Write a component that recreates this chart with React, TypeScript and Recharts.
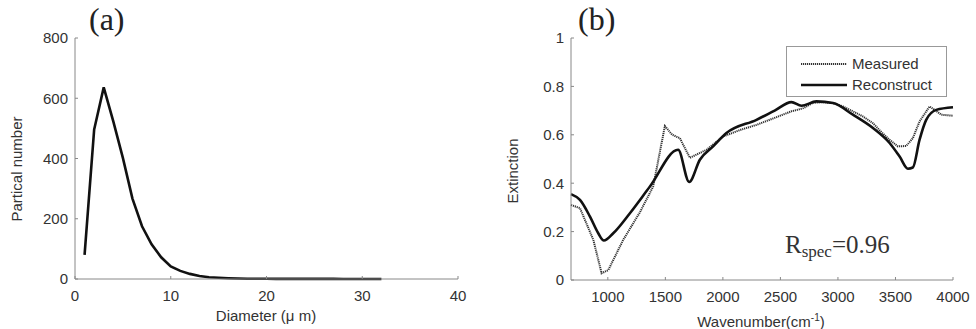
import React from 'react'
import { LineChart, Line, XAxis, YAxis, Legend } from 'recharts'

// panel (a): particle size distribution
const diameters = [1, 2, 3, 4, 5, 6, 7, 8, 9, 10, 11, 12, 13, 14, 15, 16, 17, 18, 19, 20, 21, 22, 23, 24, 25, 26, 27, 28, 29, 30, 31, 32]
const counts = [80, 496, 636, 523, 402, 267, 175, 115, 72, 42, 27, 17, 10, 6, 4, 2.5, 1.5, 1, 0.8, 0.6, 0.5, 0.5, 0.4, 0.4, 0.3, 0.3, 0.3, 0.2, 0.2, 0.2, 0.2, 0.2]
const diamTicks = [0, 10, 20, 30, 40]
const countTicks = [0, 200, 400, 600, 800]

// panel (b): extinction spectra
const measuredWn = [680, 758, 874, 946, 1004, 1134, 1279, 1394, 1496, 1560, 1626, 1713, 1858, 2002, 2150, 2292, 2450, 2596, 2700, 2783, 2870, 2957, 3040, 3130, 3220, 3304, 3380, 3449, 3521, 3594, 3651, 3709, 3796, 3850, 3898, 4000]
const measuredExt = [0.31, 0.297, 0.166, 0.028, 0.041, 0.166, 0.28, 0.386, 0.636, 0.6, 0.586, 0.505, 0.538, 0.593, 0.62, 0.641, 0.67, 0.697, 0.71, 0.732, 0.735, 0.731, 0.718, 0.697, 0.675, 0.648, 0.61, 0.579, 0.552, 0.554, 0.586, 0.655, 0.717, 0.7, 0.683, 0.679]
const reconWn = [680, 758, 845, 917, 966, 1047, 1192, 1366, 1611, 1707, 1800, 1915, 2031, 2292, 2450, 2596, 2683, 2813, 2957, 3130, 3304, 3449, 3536, 3608, 3651, 3709, 3767, 3854, 4000]
const reconExt = [0.355, 0.331, 0.262, 0.193, 0.163, 0.193, 0.276, 0.386, 0.538, 0.405, 0.497, 0.552, 0.607, 0.662, 0.7, 0.735, 0.72, 0.738, 0.731, 0.683, 0.628, 0.566, 0.51, 0.46, 0.465, 0.579, 0.662, 0.703, 0.714]
const wnTicks = [1000, 1500, 2000, 2500, 3000, 3500, 4000]
const extTicks = [0, 0.2, 0.4, 0.6, 0.8, 1]

const sizeData = diameters.map((d, i) => ({ d, n: counts[i] }))
const measured = measuredWn.map((w, i) => ({ w, v: measuredExt[i] }))
const recon = reconWn.map((w, i) => ({ w, v: reconExt[i] }))

const FONT = '"Liberation Sans", Arial, sans-serif'
const SERIF = '"Liberation Serif", "Times New Roman", serif'
const tickStyle = { fill: '#333', fontSize: 15, fontFamily: FONT }
const axisLine = { stroke: '#888' }

const SpecLegend = () => (
  <div style={{ border: '1px solid #999', background: '#fff', boxSizing: 'border-box', width: 161, height: 51, padding: '6px 0 0 14px', fontFamily: FONT, fontSize: 15, color: '#333' }}>
    {[{ name: 'Measured', dash: '1.2 0.8', w: 2, c: '#333' }, { name: 'Reconstruct', dash: undefined, w: 2.5, c: '#111' }].map(r => (
      <div key={r.name} style={{ display: 'flex', alignItems: 'center', height: 21 }}>
        <svg width={46} height={8} style={{ marginRight: 5 }}>
          <line x1={0} y1={4} x2={46} y2={4} stroke={r.c} strokeWidth={r.w} strokeDasharray={r.dash} />
        </svg>
        <span>{r.name}</span>
      </div>
    ))}
  </div>
)

const abs = (s: React.CSSProperties): React.CSSProperties => ({ position: 'absolute', ...s })

export default function App() {
  return (
    <div style={{ position: 'absolute', left: 0, top: 0, width: 976, height: 329, background: '#fff', fontFamily: FONT, overflow: 'hidden' }}>
      <div style={abs({ left: 0, top: 0 })}>
        <LineChart width={480} height={329} data={sizeData} margin={{ top: 38, right: 22, left: 0, bottom: 0 }}>
          <XAxis dataKey="d" type="number" domain={[0, 40]} ticks={diamTicks} height={50} axisLine={axisLine} tickLine={axisLine} tickSize={-3} tickMargin={14} tick={tickStyle} interval={0} />
          <YAxis type="number" domain={[0, 800]} ticks={countTicks} width={75} axisLine={axisLine} tickLine={axisLine} tickSize={-3} tickMargin={10} tick={tickStyle} interval={0} />
          <Line type="linear" dataKey="n" stroke="#111" strokeWidth={2.6} dot={false} isAnimationActive={false} />
        </LineChart>
      </div>
      <div style={abs({ left: 480, top: 0 })}>
        <LineChart width={496} height={329} margin={{ top: 38, right: 23, left: 0, bottom: 0 }}>
          <XAxis dataKey="w" type="number" domain={[680, 4000]} ticks={wnTicks} height={49} axisLine={axisLine} tickLine={axisLine} tickSize={-3} tickMargin={14} tick={tickStyle} interval={0} allowDuplicatedCategory={false} />
          <YAxis type="number" domain={[0, 1]} ticks={extTicks} width={91} axisLine={axisLine} tickLine={axisLine} tickSize={-3} tickMargin={10} tick={tickStyle} interval={0} />
          <Legend layout="vertical" align="center" verticalAlign="middle" content={() => <SpecLegend />} wrapperStyle={{ top: 46, left: 306, width: 161, height: 51 }} />
          <Line data={measured} type="linear" dataKey="v" name="Measured" stroke="#333" strokeWidth={2} strokeDasharray="1.2 0.8" dot={false} isAnimationActive={false} />
          <Line data={recon} type="monotone" dataKey="v" name="Reconstruct" stroke="#111" strokeWidth={2.6} dot={false} isAnimationActive={false} />
        </LineChart>
      </div>

      <div style={abs({ left: 89, top: 1, fontFamily: SERIF, fontSize: 32, color: '#222', lineHeight: '36px' })}>(a)</div>
      <div style={abs({ left: 578, top: 1, fontFamily: SERIF, fontSize: 32, color: '#222', lineHeight: '36px' })}>(b)</div>

      <div style={abs({ left: 16, top: 169, transform: 'translate(-50%, -50%) rotate(-90deg)', fontSize: 15, color: '#333', whiteSpace: 'nowrap' })}>Partical number</div>
      <div style={abs({ left: 266, top: 315, transform: 'translate(-50%, -50%)', fontSize: 15, color: '#333', whiteSpace: 'nowrap' })}>Diameter (μ m)</div>
      <div style={abs({ left: 512, top: 171, transform: 'translate(-50%, -50%) rotate(-90deg)', fontSize: 15, color: '#333', whiteSpace: 'nowrap' })}>Extinction</div>
      <div style={abs({ left: 761, top: 321, transform: 'translate(-50%, -50%)', fontSize: 15, color: '#333', whiteSpace: 'nowrap' })}>Wavenumber(cm<sup style={{ fontSize: 10 }}>-1</sup>)</div>

      <div style={abs({ left: 785, top: 230, fontFamily: SERIF, fontSize: 25, color: '#333', whiteSpace: 'nowrap', lineHeight: '30px' })}>
        R<sub style={{ fontSize: 17, verticalAlign: '-4px' }}>spec</sub>=0.96
      </div>
    </div>
  )
}
